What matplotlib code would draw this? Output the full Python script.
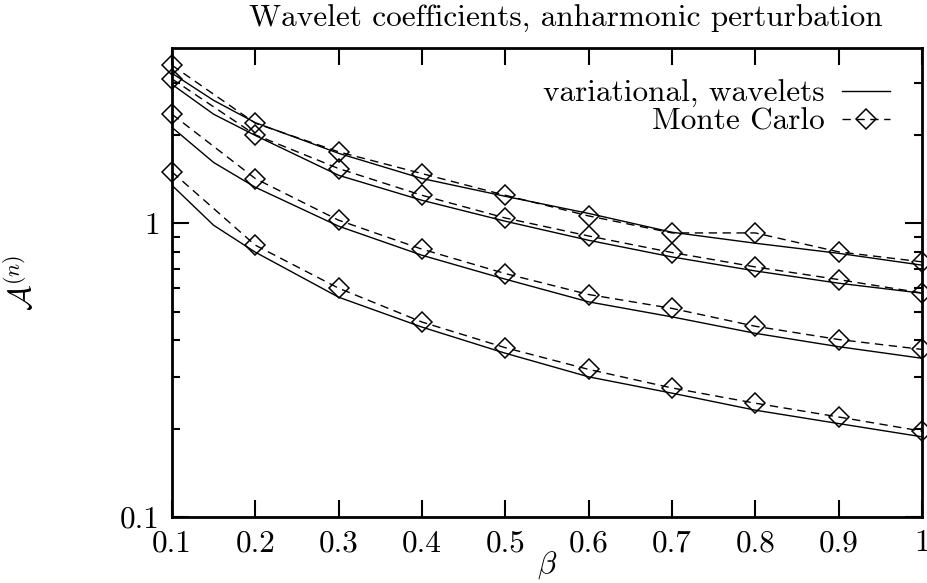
import matplotlib
matplotlib.use("Agg")
import matplotlib.pyplot as plt
from matplotlib.ticker import FixedLocator, FixedFormatter, NullFormatter

plt.rcParams['font.family'] = ['cmr10', 'DejaVu Serif']
plt.rcParams['mathtext.fontset'] = 'cm'
plt.rcParams['axes.unicode_minus'] = False

# ---- data ----
beta_mc = [0.1, 0.2, 0.3, 0.4, 0.5, 0.6, 0.7, 0.8, 0.9, 1.0]
mc_1 = [3.45, 2.19, 1.75, 1.476, 1.245, 1.059, 0.927, 0.927, 0.799, 0.739]
mc_2 = [3.10, 2.00, 1.535, 1.245, 1.042, 0.905, 0.795, 0.710, 0.643, 0.579]
mc_3 = [2.35, 1.419, 1.024, 0.816, 0.674, 0.572, 0.513, 0.446, 0.402, 0.372]
mc_4 = [1.495, 0.842, 0.601, 0.461, 0.377, 0.318, 0.275, 0.244, 0.219, 0.196]

beta_var = [0.1, 0.15, 0.2, 0.3, 0.4, 0.5, 0.6, 0.7, 0.8, 0.9, 1.0]
var_1 = [3.24, 2.62, 2.20, 1.73, 1.42, 1.235, 1.08, 0.932, 0.855, 0.79, 0.72]
var_2 = [2.97, 2.35, 1.99, 1.456, 1.197, 1.016, 0.875, 0.768, 0.688, 0.625, 0.578]
var_3 = [2.12, 1.61, 1.326, 0.977, 0.778, 0.645, 0.540, 0.480, 0.422, 0.380, 0.347]
var_4 = [1.346, 0.984, 0.797, 0.56, 0.443, 0.361, 0.300, 0.264, 0.231, 0.208, 0.1875]

x_ticks = [0.1, 0.2, 0.3, 0.4, 0.5, 0.6, 0.7, 0.8, 0.9, 1.0]
x_tick_labels = ["0.1", "0.2", "0.3", "0.4", "0.5", "0.6", "0.7", "0.8", "0.9", "1"]
y_ticks = [0.1, 1.0]
y_tick_labels = ["0.1", "1"]
y_minor = [0.2, 0.3, 0.4, 0.5, 0.6, 0.7, 0.8, 0.9, 2.0, 3.0]

title = "Wavelet coefficients, anharmonic perturbation"
label_var = "variational, wavelets"
label_mc = "Monte Carlo"

# ---- figure ----
fig = plt.figure(figsize=(9.28, 5.83), dpi=100)
ax = fig.add_axes([172/928, 1-517/583, (922-172)/928, (517-48)/583])

fs = 22.5
lw = 1.0
for i, (v, m) in enumerate([(var_1, mc_1), (var_2, mc_2), (var_3, mc_3), (var_4, mc_4)]):
    ax.plot(beta_var, v, color='black', lw=lw, solid_joinstyle='miter',
            label=label_var if i == 0 else None, clip_on=False)
    ax.plot(beta_mc, m, color='black', lw=lw, linestyle=(0, (6, 4)),
            marker='D', markersize=10, markerfacecolor='none', markeredgecolor='black',
            markeredgewidth=1.1, label=label_mc if i == 0 else None, clip_on=False)

ax.set_yscale('log')
ax.set_xlim(0.1, 1.0)
ax.set_ylim(0.1, 3.95)

ax.xaxis.set_major_locator(FixedLocator(x_ticks))
ax.xaxis.set_major_formatter(FixedFormatter(x_tick_labels))
ax.xaxis.set_minor_locator(FixedLocator([]))
ax.yaxis.set_major_locator(FixedLocator(y_ticks))
ax.yaxis.set_major_formatter(FixedFormatter(y_tick_labels))
ax.yaxis.set_minor_locator(FixedLocator(y_minor))
ax.yaxis.set_minor_formatter(NullFormatter())

ax.tick_params(which='both', direction='in', top=True, right=True, colors='black')
ax.tick_params(which='major', length=12, width=1.5, labelsize=fs, pad=9)
ax.tick_params(which='minor', length=6, width=1.5)
for s in ax.spines.values():
    s.set_linewidth(2.0)

ax.text((566-172)/750, 1+(48-19)/469, title, transform=ax.transAxes,
        fontsize=fs, ha='center', va='center')
ax.set_xlabel(r'$\beta$', fontsize=fs, labelpad=-6)
ax.set_ylabel(r'$\mathcal{A}^{(n)}$', fontsize=fs, labelpad=58)

leg = ax.legend(loc='upper right', bbox_to_anchor=((890-172)/750, 1-(80-48)/469),
                frameon=False, markerfirst=False, fontsize=fs, handlelength=1.55,
                handletextpad=0.55, labelspacing=0.0, borderpad=0, borderaxespad=0,
                numpoints=1)

fig.savefig('out.png', dpi=100)
